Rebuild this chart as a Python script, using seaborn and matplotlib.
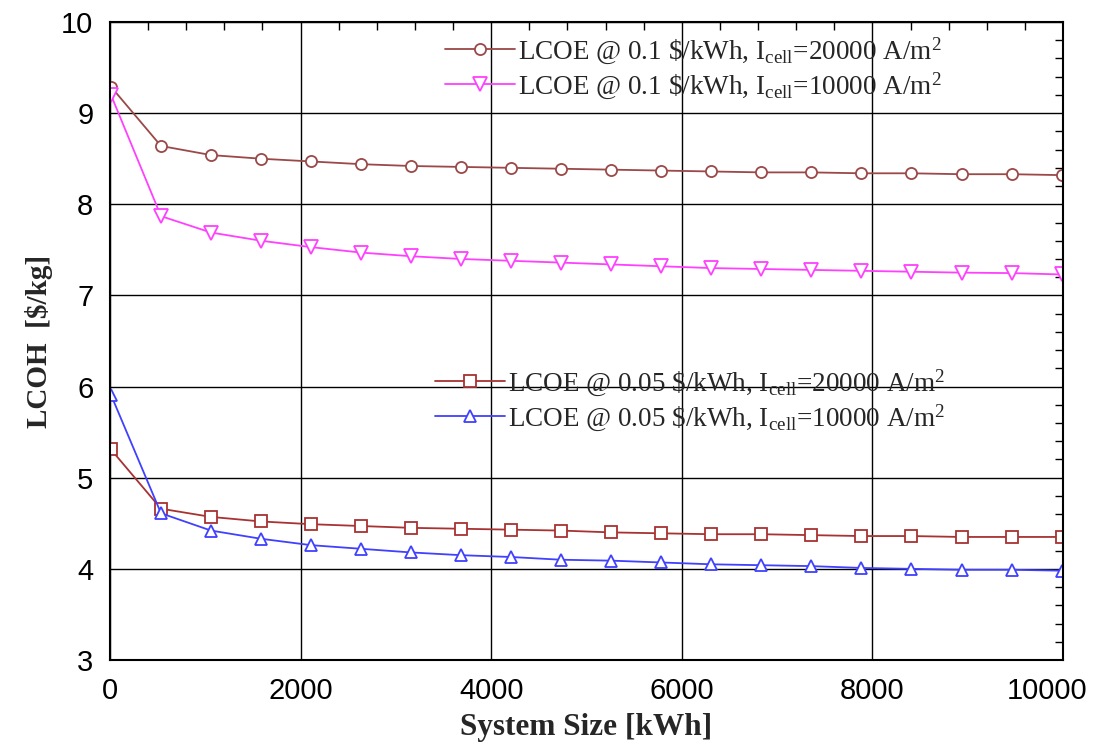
import matplotlib
matplotlib.use("Agg")
import matplotlib.pyplot as plt
from matplotlib.ticker import MultipleLocator
import matplotlib.transforms as mtransforms
import seaborn as sns
import pandas as pd

# ---- data ----
system_size = [10, 535, 1060, 1585, 2110, 2635, 3160, 3685, 4210, 4735,
               5260, 5785, 6310, 6835, 7360, 7885, 8410, 8935, 9460, 9985]
lcoh_01_20000 = [9.29, 8.64, 8.54, 8.50, 8.47, 8.44, 8.42, 8.41, 8.40, 8.39,
                 8.38, 8.37, 8.36, 8.35, 8.35, 8.34, 8.34, 8.33, 8.33, 8.32]
lcoh_01_10000 = [9.20, 7.87, 7.69, 7.60, 7.53, 7.47, 7.43, 7.40, 7.38, 7.36,
                 7.34, 7.32, 7.30, 7.29, 7.28, 7.27, 7.26, 7.25, 7.245, 7.23]
lcoh_005_20000 = [5.31, 4.66, 4.57, 4.52, 4.49, 4.47, 4.45, 4.44, 4.43, 4.42,
                  4.40, 4.39, 4.38, 4.38, 4.37, 4.36, 4.36, 4.35, 4.35, 4.35]
lcoh_005_10000 = [5.91, 4.61, 4.42, 4.33, 4.26, 4.22, 4.18, 4.15, 4.13, 4.10,
                  4.09, 4.07, 4.05, 4.04, 4.03, 4.01, 4.00, 3.99, 3.99, 3.98]

x_ticks = [0, 2000, 4000, 6000, 8000, 10000]
y_ticks = [3, 4, 5, 6, 7, 8, 9, 10]

labels = [r"LCOE @ 0.1 \$/kWh, I$_{\rm cell}$=20000 A/m$^2$",
          r"LCOE @ 0.1 \$/kWh, I$_{\rm cell}$=10000 A/m$^2$",
          r"LCOE @ 0.05 \$/kWh, I$_{\rm cell}$=20000 A/m$^2$",
          r"LCOE @ 0.05 \$/kWh, I$_{\rm cell}$=10000 A/m$^2$"]
series = [lcoh_01_20000, lcoh_01_10000, lcoh_005_20000, lcoh_005_10000]
colors = ["#9B4848", "#FF40FF", "#A83232", "#4040FF"]
markers = ["o", "v", "s", "^"]
msizes = [8, 10, 8, 8]

sns.set_theme(style="white")
plt.rcParams["font.family"] = ["Liberation Sans", "DejaVu Sans"]
plt.rcParams["mathtext.fontset"] = "custom"
plt.rcParams["mathtext.rm"] = "Liberation Serif"
plt.rcParams["mathtext.it"] = "Liberation Serif:italic"
plt.rcParams["mathtext.bf"] = "Liberation Serif:bold"

fig = plt.figure(figsize=(11.01, 7.44), dpi=100)
ax = fig.add_axes([110/1101, 1-660/744, (1063-110)/1101, (660-22)/744])

handles = []
for y, lab, c, m, ms in zip(series, labels, colors, markers, msizes):
    df = pd.DataFrame({"x": system_size, "y": y})
    sns.lineplot(data=df, x="x", y="y", ax=ax, color=c, marker=m,
                 markersize=ms, markerfacecolor="white", markeredgecolor=c,
                 markeredgewidth=1.3, linewidth=1.3, label=lab, legend=False)
    handles.append(ax.lines[-1])

ax.set_xlim(0, 10000)
ax.set_ylim(3, 10)
ax.set_xticks(x_ticks)
ax.set_yticks(y_ticks)
ax.xaxis.set_minor_locator(MultipleLocator(400))
ax.yaxis.set_minor_locator(MultipleLocator(0.2))
ax.grid(True, which="major", color="black", linewidth=1.0)
ax.set_axisbelow(True)
ax.tick_params(which="both", direction="in", top=True, right=True, colors="black")
ax.tick_params(which="major", length=0, labelsize=21, pad=12)
ax.tick_params(which="minor", length=6, width=1)
for s in ax.spines.values():
    s.set_color("black")
    s.set_linewidth(1.5)

ax.set_xlabel("System Size [kWh]", family="Liberation Serif", fontweight="bold",
              fontsize=22.5, labelpad=6)
ax.set_ylabel("LCOH  [$/kg]", family="Liberation Serif", fontweight="bold",
              fontsize=21, labelpad=6)

leg_kw = dict(frameon=False, handlelength=2.6, handletextpad=0.1,
              labelspacing=0.18, borderaxespad=0, borderpad=0,
              prop={"family": "Liberation Serif", "size": 19.5})
leg1 = ax.legend(handles[:2], labels[:2], loc="upper left",
                 bbox_to_anchor=((445-110)/953, (660-35)/638), **leg_kw)
ax.add_artist(leg1)
ax.legend(handles[2:], labels[2:], loc="upper left",
          bbox_to_anchor=((435-110)/953, (660-367)/638), **leg_kw)

# shift last x tick label left so it stays inside the figure
fig.canvas.draw()
last = ax.xaxis.get_major_ticks()[-1].label1
last.set_transform(last.get_transform() +
                   mtransforms.ScaledTranslation(-16/100, 0, fig.dpi_scale_trans))

fig.savefig("out.png", dpi=100)
